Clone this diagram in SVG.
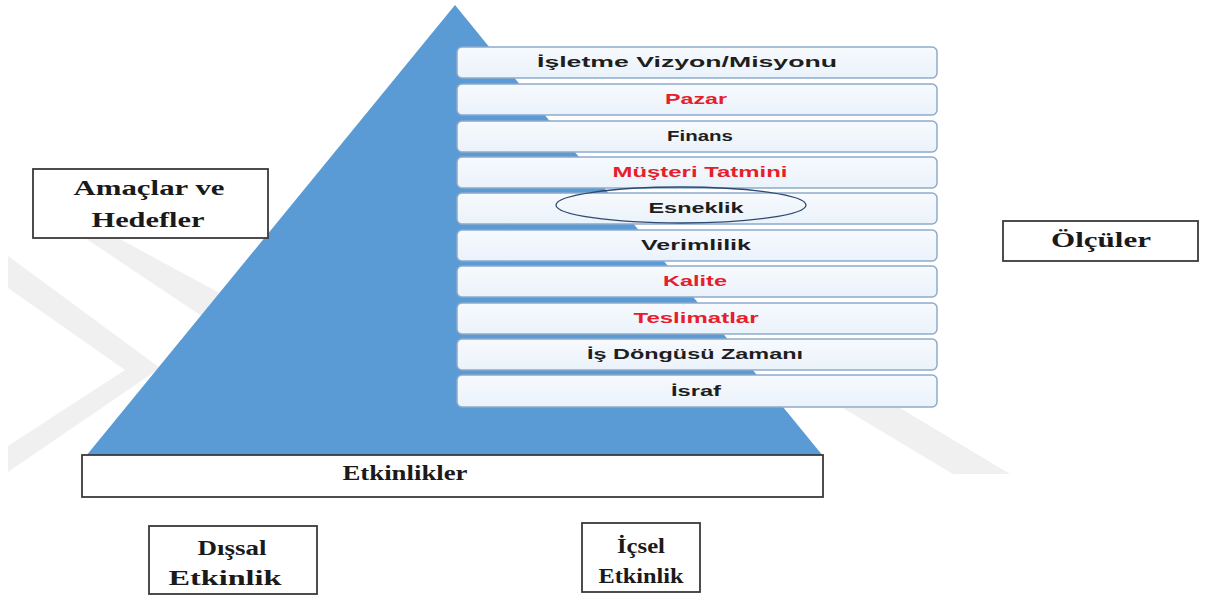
<svg xmlns="http://www.w3.org/2000/svg" width="1205" height="596" viewBox="0 0 1205 596">
<defs>
<linearGradient id="rowFill" x1="0" y1="0" x2="0" y2="1">
<stop offset="0" stop-color="#F7FAFE"/>
<stop offset="1" stop-color="#EAF2FA"/>
</linearGradient>
<style>
.wm{fill:#F0F0F0}
.row{fill:url(#rowFill);stroke:#8FAACB;stroke-width:1.5}
.rt{font-family:"Liberation Sans",Arial,sans-serif;font-weight:bold;font-size:15px;text-anchor:middle}
.blk{fill:#1E1E1E}
.red{fill:#E5202B}
.box{fill:#FFFFFF;stroke:#3A3A3A;stroke-width:1.8}
.tt{font-family:"Liberation Serif","Times New Roman",serif;font-weight:bold;font-size:20px;fill:#1A1A1A;text-anchor:middle}
</style>
</defs>
<rect width="1205" height="596" fill="#FFFFFF"/>
<g id="watermark">
<polygon class="wm" points="8,256 160,368 8,472 8,446 125,370 8,288"/>
<polygon class="wm" points="85,238 118,238 260,315 230,335"/>
<polygon class="wm" points="843,408 900,408 1010,474 953,474"/>
</g>
<g id="pyramid">
<polygon points="455,5 823,456 86,456" fill="#5B9BD5"/>
</g>
<g id="measures">
<g id="m1"><rect class="row" x="457" y="47" width="480" height="31" rx="5"/><text class="rt blk" x="687" y="67" textLength="300" lengthAdjust="spacingAndGlyphs">İşletme Vizyon/Misyonu</text></g>
<g id="m2"><rect class="row" x="457" y="84" width="480" height="31" rx="5"/><text class="rt red" x="696" y="104" textLength="62" lengthAdjust="spacingAndGlyphs">Pazar</text></g>
<g id="m3"><rect class="row" x="457" y="121" width="480" height="31" rx="5"/><text class="rt blk" x="700" y="141" textLength="66" lengthAdjust="spacingAndGlyphs">Finans</text></g>
<g id="m4"><rect class="row" x="457" y="157" width="480" height="31" rx="5"/><text class="rt red" x="700" y="177" textLength="175" lengthAdjust="spacingAndGlyphs">Müşteri Tatmini</text></g>
<g id="m5"><rect class="row" x="457" y="193" width="480" height="31" rx="5"/><text class="rt blk" x="696" y="213" textLength="95" lengthAdjust="spacingAndGlyphs">Esneklik</text><ellipse cx="681" cy="205" rx="125" ry="18" fill="none" stroke="#2E4A70" stroke-width="1.3"/></g>
<g id="m6"><rect class="row" x="457" y="230" width="480" height="31" rx="5"/><text class="rt blk" x="696" y="250" textLength="110" lengthAdjust="spacingAndGlyphs">Verimlilik</text></g>
<g id="m7"><rect class="row" x="457" y="266" width="480" height="31" rx="5"/><text class="rt red" x="695" y="286" textLength="64" lengthAdjust="spacingAndGlyphs">Kalite</text></g>
<g id="m8"><rect class="row" x="457" y="303" width="480" height="31" rx="5"/><text class="rt red" x="696" y="323" textLength="125" lengthAdjust="spacingAndGlyphs">Teslimatlar</text></g>
<g id="m9"><rect class="row" x="457" y="339" width="480" height="31" rx="5"/><text class="rt blk" x="695" y="359" textLength="216" lengthAdjust="spacingAndGlyphs">İş Döngüsü Zamanı</text></g>
<g id="m10"><rect class="row" x="457" y="375" width="480" height="32" rx="5"/><text class="rt blk" x="696" y="396" textLength="50" lengthAdjust="spacingAndGlyphs">İsraf</text></g>
</g>
<g id="amaclar"><rect class="box" x="33" y="169" width="235" height="69"/><text class="tt" x="149" y="195" textLength="151" lengthAdjust="spacingAndGlyphs">Amaçlar ve</text><text class="tt" x="148" y="227" textLength="113" lengthAdjust="spacingAndGlyphs">Hedefler</text></g>
<g id="olculer"><rect class="box" x="1003" y="221" width="195" height="40"/><text class="tt" x="1101" y="247" textLength="100" lengthAdjust="spacingAndGlyphs">Ölçüler</text></g>
<g id="etkinlikler"><rect class="box" x="82" y="455" width="741" height="42"/><text class="tt" x="405" y="480" textLength="125" lengthAdjust="spacingAndGlyphs">Etkinlikler</text></g>
<g id="dissal"><rect class="box" x="149" y="526" width="168" height="68"/><text class="tt" x="232" y="555" textLength="69" lengthAdjust="spacingAndGlyphs">Dışsal</text><text class="tt" x="225" y="585" textLength="113" lengthAdjust="spacingAndGlyphs">Etkinlik</text></g>
<g id="icsel"><rect class="box" x="582" y="523" width="118" height="69"/><text class="tt" x="641" y="553" textLength="48" lengthAdjust="spacingAndGlyphs">İçsel</text><text class="tt" x="641" y="583" textLength="85" lengthAdjust="spacingAndGlyphs">Etkinlik</text></g>
<g id="connectors"/>
</svg>
